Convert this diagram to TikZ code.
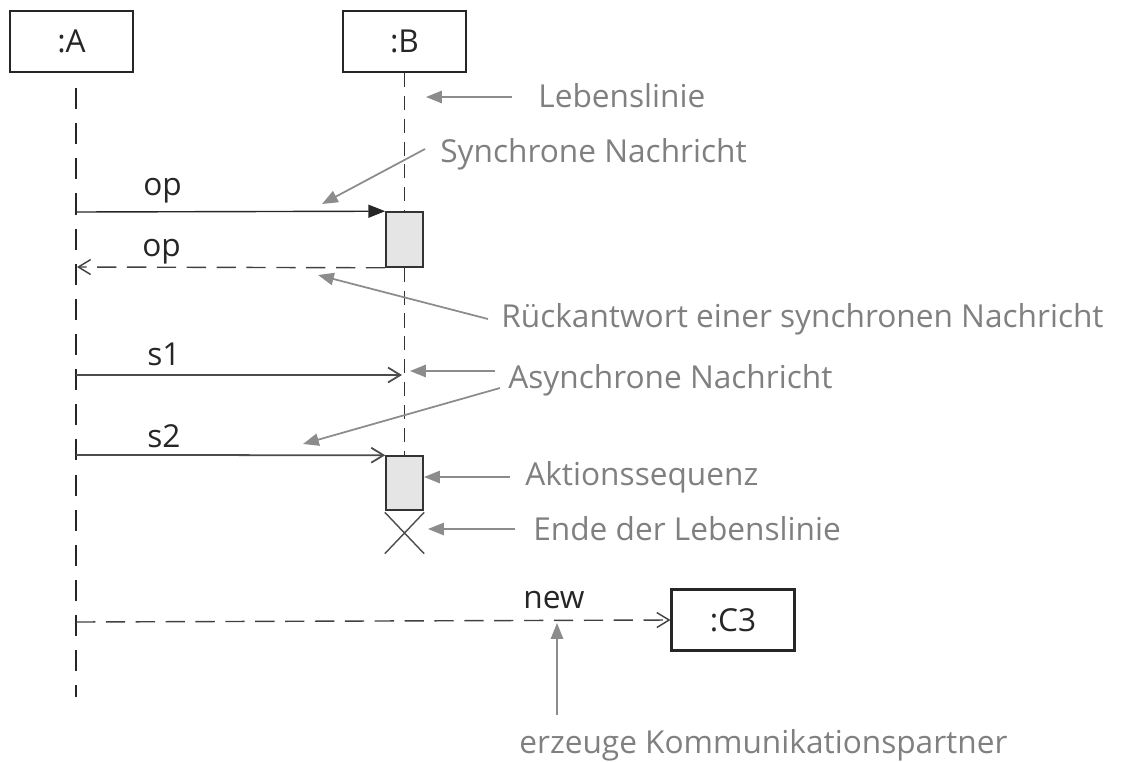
\documentclass[tikz,border=0pt]{standalone}
\usepackage{fontspec}
\setmainfont{Open Sans}
\usetikzlibrary{arrows.meta,shapes.misc}

\begin{document}
\begin{tikzpicture}[x=0.02cm,y=-0.02cm,
  every node/.style={font=\fontsize{18}{21}\selectfont},
  obj/.style={draw=black!85,line width=1.2pt,minimum width=2.46cm,minimum height=1.22cm,inner sep=0pt,text=black!85},
  act/.style={draw=black!80,line width=0.9pt,fill=black!10,minimum width=0.74cm,inner sep=0pt},
  note/.style={anchor=base west,inner sep=0pt,text=black!50},
  lbl/.style={anchor=base west,inner sep=0pt,text=black!85},
  hint/.style={draw=black!45,line width=1pt,-{Triangle[length=9pt,width=7pt]}},
  sync/.style={draw=black!85,line width=0.8pt,-{Triangle[length=9.6pt,width=7.4pt]}},
  ret/.style={draw=black!75,line width=0.8pt,dash pattern=on 11pt off 6pt,-{Straight Barb[length=7pt,width=8.5pt]}},
  async/.style={draw=black!70,line width=1pt,-{Straight Barb[length=7pt,width=8.5pt]}}]
 \useasboundingbox (0,0) rectangle (1122,761);
 % objects and activations
 \node[obj] (A) at (71.5,41.5) {:A};
 \node[obj] (B) at (404.5,41.5) {:B};
 \node[obj] (C3) at (733,620) {:C3};
 \node[act,minimum height=1.1cm] (act1) at (404.5,239.5) {};
 \node[act,minimum height=1.08cm] (act2) at (404.5,483) {};
 \node[draw=black!70,line width=0.8pt,cross out,minimum width=0.76cm,minimum height=0.8cm,inner sep=0pt] (stop) at (404.5,533) {};
 % lifelines
 \coordinate (a0) at (76,88);
 \coordinate (a1) at (76,697);
 \draw[black!85,line width=1.5pt,dash pattern=on 12pt off 8pt] (a0) -- (a1);
 \draw[black!80,line width=0.6pt,dash pattern=on 8pt off 5pt] (B.south) -- (act1.north) (act1.south) -- (act2.north);
 % messages
 \coordinate (a-op) at (76,212);
 \draw[sync] (a-op) -- (act1.north west);
 \node[lbl] (op1) at (143,195) {op};
 \coordinate (a-ret) at (77,267);
 \draw[ret] (act1.south west) -- (a-ret);
 \node[lbl] (op2) at (142,256) {op};
 \coordinate (a-s1) at (76,375);
 \coordinate (b-s1) at (402,375);
 \draw[async] (a-s1) -- (b-s1);
 \node[lbl] (s1) at (147,365) {s1};
 \coordinate (a-s2) at (76,455);
 \draw[async] (a-s2) -- (act2.north west);
 \node[lbl] (s2) at (147,447) {s2};
 \coordinate (a-new) at (76,622);
 \draw[ret] (a-new) -- (C3.west);
 \node[lbl] (new) at (523,608) {new};
 % notes
 \node[note] (lebens) at (538,107) {Lebenslinie};
 \node[note] (syncn) at (440,162) {Synchrone Nachricht};
 \node[note] (rueck) at (501,327) {Rückantwort einer synchronen Nachricht};
 \node[note] (asyncn) at (508,388) {Asynchrone Nachricht};
 \node[note] (aktion) at (525,485) {Aktionssequenz};
 \node[note] (ende) at (533,540) {Ende der Lebenslinie};
 \node[note] (erz) at (519,753) {erzeuge Kommunikationspartner};
 \coordinate (t-lebens) at (426,97);
 \coordinate (t-sync) at (322,204);
 \coordinate (t-rueck) at (318,275);
 \coordinate (t-async1) at (410,371);
 \coordinate (t-async2) at (303,444);
 \coordinate (t-aktion) at (424,477);
 \coordinate (t-ende) at (428,529);
 \coordinate (t-new) at (557,623);
 \draw[hint] ([shift={(-26,-10)}]lebens.base west) -- (t-lebens);
 \draw[hint] ([shift={(-15,-13)}]syncn.base west) -- (t-sync);
 \draw[hint] ([shift={(-13,-8)}]rueck.base west) -- (t-rueck);
 \draw[hint] ([shift={(-13,-17)}]asyncn.base west) -- (t-async1);
 \draw[hint] ([shift={(-8,0)}]asyncn.base west) -- (t-async2);
 \draw[hint] ([shift={(-15,-8)}]aktion.base west) -- (t-aktion);
 \draw[hint] ([shift={(-18,-11)}]ende.base west) -- (t-ende);
 \draw[hint] ([shift={(38,-38)}]erz.base west) -- (t-new);
\end{tikzpicture}
\end{document}
